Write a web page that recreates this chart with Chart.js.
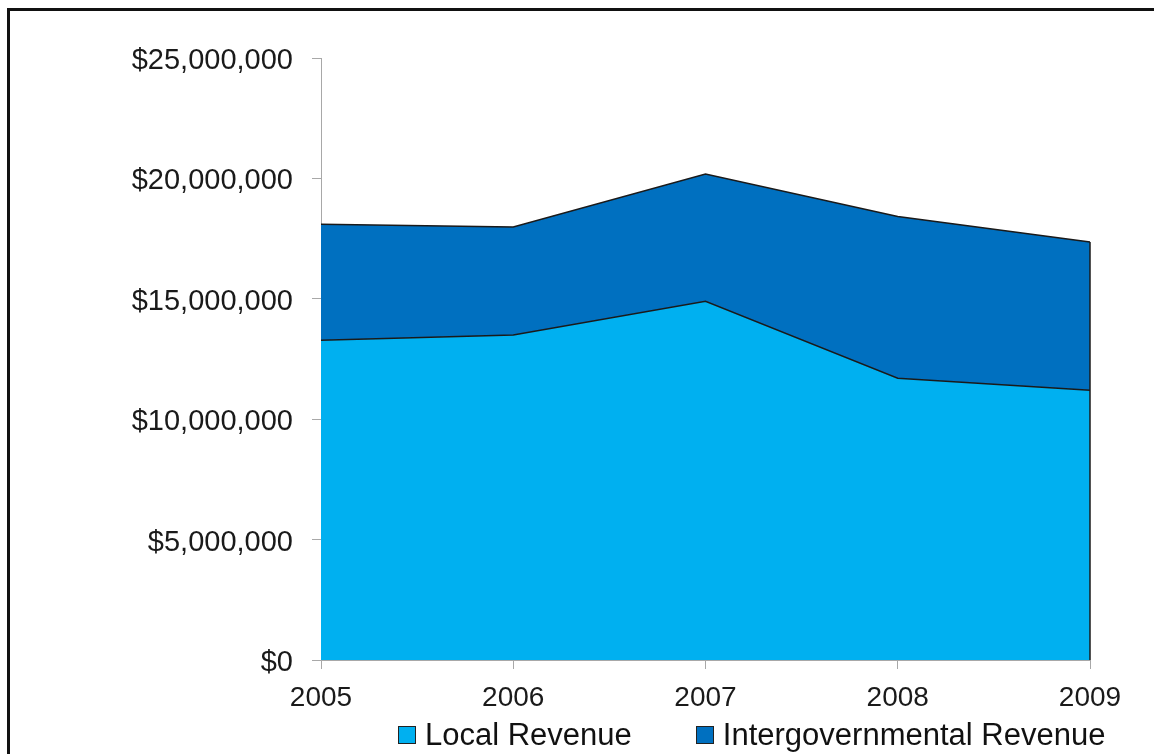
<!DOCTYPE html>
<html>
<head>
<meta charset="utf-8">
<script src="https://cdn.jsdelivr.net/npm/chart.js@4/dist/chart.umd.min.js"></script>
<style>
    html, body { margin: 0; padding: 0; background: #fff; overflow: hidden; }
    #wrap { position: relative; width: 1154px; height: 754px; }
    #frame { position: absolute; left: 7px; top: 8px; width: 1300px; height: 900px; border-left: 3px solid #111; border-top: 3px solid #111; }
    #chart { position: absolute; left: 0; top: 0; }
    #legend { position: absolute; left: 398px; top: 717px; display: flex; align-items: center; font-family: "Liberation Sans", Arial, sans-serif; font-size: 31px; color: #111; white-space: nowrap; }
    .item { display: flex; align-items: center; margin-right: 64px; }
    .box { width: 16px; height: 16px; border: 1px solid #222; margin-right: 9px; }
</style>
</head>
<body>
<div id="wrap">
    <div id="frame"></div>
    <canvas id="chart" width="1154" height="754"></canvas>
    <div id="legend"></div>
</div>
<script>
// 年度
const years = ['2005', '2006', '2007', '2008', '2009'];
// 地方收入、政府間收入（美元）
const localRevenue = [13280000, 13500000, 14900000, 11700000, 11200000];
const interRevenue = [4820000, 4480000, 5280000, 6720000, 6160000];
const seriesNames = ['Local Revenue', 'Intergovernmental Revenue'];
const seriesColors = ['#00b0f0', '#0070c0'];

const font = 'Liberation Sans, Arial, sans-serif';

// 面積右側的深色邊線
const rightEdge = {
    id: 'rightEdge',
    afterDatasetsDraw(chart) {
        const { ctx, scales: { x, y } } = chart;
        const last = years.length - 1;
        const px = x.getPixelForValue(last);
        const top = y.getPixelForValue(localRevenue[last] + interRevenue[last]);
        ctx.save();
        ctx.strokeStyle = '#1a1a1a';
        ctx.lineWidth = 1.5;
        ctx.beginPath();
        ctx.moveTo(px, top);
        ctx.lineTo(px, y.getPixelForValue(0));
        ctx.stroke();
        ctx.restore();
    }
};

new Chart(document.getElementById('chart').getContext('2d'), {
    type: 'line',
    data: {
        labels: years,
        datasets: [
            { label: seriesNames[0], data: localRevenue, backgroundColor: seriesColors[0], borderColor: '#1a1a1a', borderWidth: 1.5, fill: 'origin', pointRadius: 0, tension: 0 },
            { label: seriesNames[1], data: interRevenue, backgroundColor: seriesColors[1], borderColor: '#1a1a1a', borderWidth: 1.5, fill: '-1', pointRadius: 0, tension: 0 }
        ]
    },
    options: {
        responsive: false,
        animation: false,
        layout: { padding: { top: 58, right: 64, left: 0, bottom: 0 } },
        plugins: { legend: { display: false }, tooltip: { enabled: false } },
        scales: {
            x: {
                offset: false,
                grid: { drawOnChartArea: false, color: '#a8a8a8', tickLength: 9 },
                border: { color: '#a8a8a8' },
                ticks: { color: '#1a1a1a', font: { family: font, size: 28 }, padding: 12, maxRotation: 0 },
                afterFit: s => { s.height = 94; }
            },
            y: {
                stacked: true,
                min: 0,
                max: 25000000,
                grid: { drawOnChartArea: false, color: '#a8a8a8', tickLength: 9 },
                border: { color: '#a8a8a8' },
                ticks: { stepSize: 5000000, color: '#1a1a1a', font: { family: font, size: 29 }, padding: 19, labelOffset: 3, callback: v => '$' + v.toLocaleString('en-US') },
                afterFit: s => { s.width = 321; }
            }
        }
    },
    plugins: [rightEdge]
});

// 圖例
document.getElementById('legend').innerHTML = seriesNames.map((n, i) => `
    <div class="item"><span class="box" style="background:${seriesColors[i]}"></span><span>${n}</span></div>`).join('');
</script>
</body>
</html>
